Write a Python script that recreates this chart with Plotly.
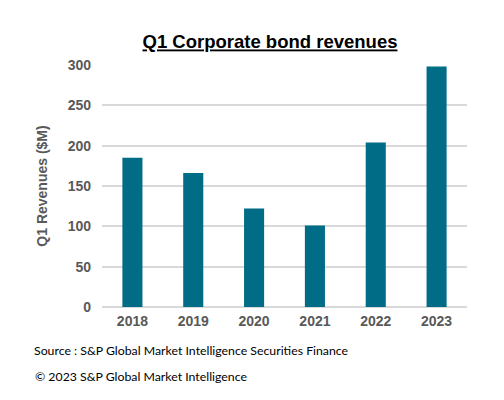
import plotly.graph_objects as go

years = ["2018", "2019", "2020", "2021", "2022", "2023"]
revenues = [185, 166, 122, 101, 204, 298]
y_ticks = [0, 50, 100, 150, 200, 250, 300]

title_text = "Q1 Corporate bond revenues"
y_title = "Q1 Revenues ($M)"
source_text = "Source : S&P Global Market Intelligence Securities Finance"
copyright_text = "© 2023 S&P Global Market Intelligence"

# the page places the figure 8px in from the top-left corner
OFF = 8
W, H = 504 - OFF, 400 - OFF
L, R, T, B = 102 - OFF, 37, 65 - OFF, 93
PW, PH = W - L - R, H - T - B

fig = go.Figure(
    go.Bar(x=years, y=revenues, marker=dict(color="#006C86", line=dict(width=0)))
)

fig.update_layout(
    width=W,
    height=H,
    paper_bgcolor="white",
    plot_bgcolor="white",
    margin=dict(l=L, r=R, t=T, b=B),
    bargap=0.67,
    showlegend=False,
    font=dict(family="Liberation Sans, Arial, sans-serif"),
    title=dict(
        text="<u>" + title_text + "</u>",
        x=(270 - OFF) / W,
        xanchor="center",
        y=1 - (42 - OFF) / H,
        yanchor="middle",
        font=dict(size=18.5, color="black", family="Liberation Sans, Arial, sans-serif", weight="bold"),
    ),
)

fig.update_xaxes(
    type="category",
    showgrid=False,
    showline=False,
    ticks="",
    ticklabelstandoff=4,
    tickfont=dict(size=14, color="#595959", weight="bold"),
)

fig.update_yaxes(
    range=[0, 300],
    tickvals=y_ticks,
    showgrid=True,
    gridcolor="#D9D9D9",
    gridwidth=1.5,
    zeroline=True,
    zerolinecolor="#D9D9D9",
    zerolinewidth=1.5,
    showline=False,
    ticks="",
    ticklabelstandoff=10,
    tickfont=dict(size=14, color="#595959", weight="bold"),
    title=dict(text=y_title, font=dict(size=14, color="#595959", weight="bold"), standoff=16),
)

fig.add_annotation(
    text=source_text, xref="paper", yref="paper",
    x=(32 - 102) / PW, y=-(350 - 307) / PH, xanchor="left", yanchor="middle",
    showarrow=False, font=dict(size=12.3, color="black", family="Lato, Carlito, sans-serif"),
)
fig.add_annotation(
    text=copyright_text, xref="paper", yref="paper",
    x=(33 - 102) / PW, y=-(376 - 307) / PH, xanchor="left", yanchor="middle",
    showarrow=False, font=dict(size=12.3, color="black", family="Lato, Carlito, sans-serif"),
)

fig.write_html("out.html")
